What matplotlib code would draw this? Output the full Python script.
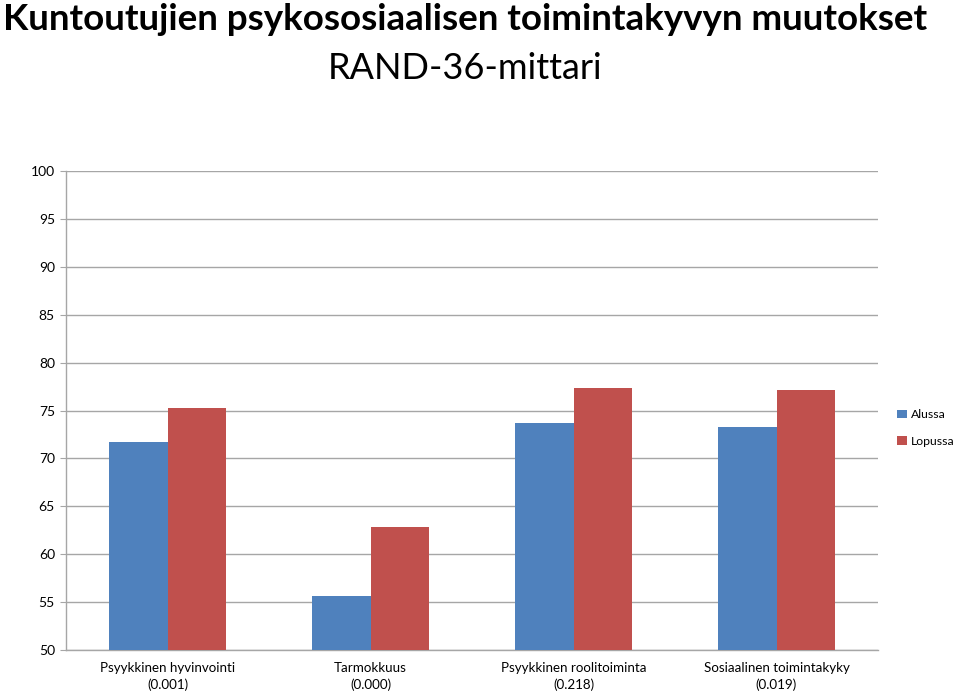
import matplotlib
matplotlib.use("Agg")
import matplotlib.pyplot as plt
import numpy as np

categories = ["Psyykkinen hyvinvointi\n(0.001)", "Tarmokkuus\n(0.000)",
              "Psyykkinen roolitoiminta\n(0.218)", "Sosiaalinen toimintakyky\n(0.019)"]
alussa = [71.7, 55.6, 73.7, 73.3]
lopussa = [75.3, 62.8, 77.3, 77.1]
series_names = ["Alussa", "Lopussa"]
colors = ["#4F81BD", "#C0504D"]

plt.rcParams['font.family'] = ['Lato', 'DejaVu Sans']

fig = plt.figure(figsize=(9.6, 6.93), dpi=100)
ax = fig.add_axes([66/960, 1-650/693, (878-66)/960, (650-171)/693])

x = np.arange(len(categories))
w = 0.286
ax.bar(x - w/2, np.array(alussa) - 50, w, bottom=50, color=colors[0], label=series_names[0], zorder=3)
ax.bar(x + w/2, np.array(lopussa) - 50, w, bottom=50, color=colors[1], label=series_names[1], zorder=3)

ax.set_xlim(-0.5, len(categories) - 0.5)
ax.set_ylim(50, 100)
ax.set_yticks(np.arange(50, 101, 5))
ax.yaxis.grid(True, color="#A6A6A6", linewidth=1.0, zorder=0)
ax.set_axisbelow(True)
for s in ["top", "right"]:
    ax.spines[s].set_visible(False)
for s in ["left", "bottom"]:
    ax.spines[s].set_color("#A6A6A6")
    ax.spines[s].set_linewidth(1.0)
ax.tick_params(axis="y", length=4, color="#A6A6A6", labelsize=10, pad=4)
ax.tick_params(axis="x", length=0, labelsize=9.6, pad=9)
ax.set_xticks(x)
ax.set_xticklabels(categories, linespacing=1.4)

fig.text(0.484, 0.995, "Kuntoutujien psykososiaalisen toimintakyvyn muutokset",
         ha="center", va="top", fontsize=26.5, fontweight="bold")
fig.text(0.484, 0.925, "RAND-36-mittari", ha="center", va="top", fontsize=26)

ax.legend(loc="center left", bbox_to_anchor=(1.024, 0.463), frameon=False,
          fontsize=8.8, handlelength=0.75, handleheight=0.75, handletextpad=0.35,
          labelspacing=1.3, borderaxespad=0, borderpad=0)

fig.savefig("out.png", dpi=100)
